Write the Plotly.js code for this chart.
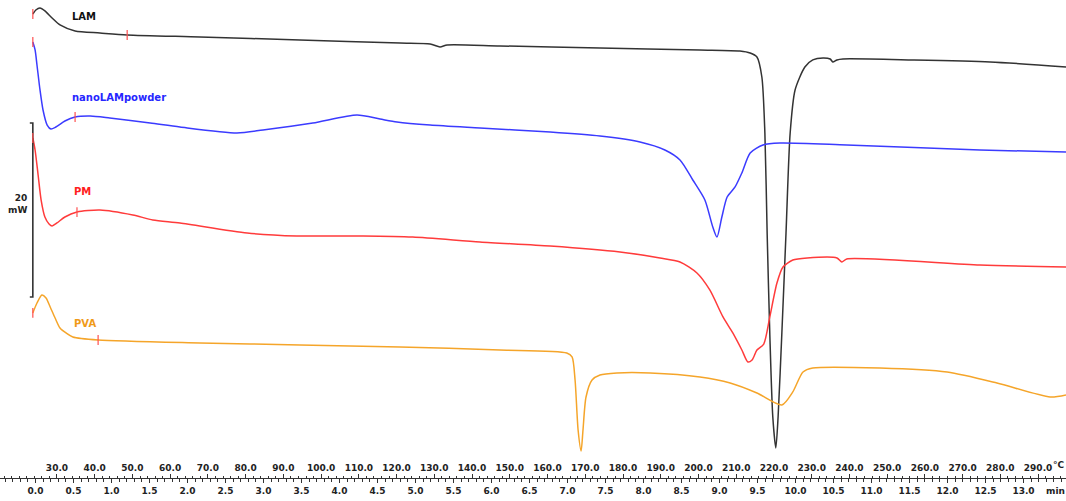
<!DOCTYPE html>
<html>
<head>
<meta charset="utf-8">
<script src="https://cdn.plot.ly/plotly-3.0.1.min.js"></script>
<style>html,body{margin:0;padding:0;background:#fff;}#chart{width:1066px;height:501px;}</style>
</head>
<body>
<div id="chart"></div>
<script>
// ---- Data (temperature in °C, heat flow in mW, curves vertically offset as in the thermogram) ----
const lamT  = [23.6,24.4,25.5,26.8,28.7,30.8,34.8,41.4,48.6,67.9,94.4,120.9,128.9,131.5,133.4,147.4,173.9,200.4,211.0,213.7,215.5,216.8,217.6,218.2,218.9,219.7,220.5,221.1,222.1,223.2,224.3,225.6,228.2,230.3,233.0,234.9,235.6,236.7,238.3,256.8,277.3,297.4];
const lamHF = [53.33,53.79,54.02,53.68,52.87,52.07,51.38,51.15,50.92,50.69,50.34,50.00,49.89,49.54,49.77,49.66,49.43,49.20,49.08,48.85,48.39,46.09,39.66,28.16,16.67,7.01,3.45,7.01,16.67,28.16,39.66,44.60,47.24,48.05,48.28,48.16,47.82,48.05,48.16,48.05,47.82,47.24];

const nanoT  = [23.6,24.2,24.7,25.5,26.3,27.4,28.4,29.7,32.1,34.8,38.8,44.0,54.7,62.6,77.7,84.6,97.8,109.5,115.6,120.1,128.9,142.1,160.7,173.9,184.5,191.1,195.1,198.5,201.7,203.8,204.9,206.2,207.6,209.7,211.5,213.7,217.1,221.6,239.3,274.6,297.4];
const nanoHF = [50.11,49.20,47.47,44.60,42.30,40.57,40.11,40.34,41.03,41.49,41.61,41.38,40.80,40.34,39.66,40.00,40.80,41.72,41.26,40.92,40.57,40.23,39.77,39.31,38.62,37.70,36.55,34.25,31.95,28.85,27.70,30.00,32.30,33.45,35.06,37.36,38.28,38.51,38.28,37.70,37.47];

const pmT  = [23.6,24.2,25.0,25.8,26.8,27.9,28.7,30.0,32.1,35.3,41.4,50.1,55.4,62.6,80.4,93.6,111.1,124.3,142.1,160.7,179.2,189.8,195.1,199.6,203.0,206.5,209.1,211.5,213.1,214.2,215.5,217.3,218.9,220.8,222.4,225.0,228.8,236.7,238.0,239.3,274.6,297.4];
const pmHF = [39.08,37.70,34.83,31.95,30.00,29.20,28.97,29.31,30.00,30.57,30.80,30.23,29.66,29.31,28.16,27.82,27.82,27.70,27.13,26.67,25.98,25.29,24.83,23.56,21.61,18.51,16.67,14.71,13.33,13.56,14.71,15.40,18.51,22.41,24.25,25.06,25.29,25.29,24.83,25.17,24.48,24.25];

const pvaT  = [23.6,24.7,26.0,27.1,28.2,29.5,30.8,32.4,34.2,40.9,67.9,94.4,120.9,147.4,165.1,166.5,167.3,168.1,168.9,169.4,170.2,171.8,173.9,178.4,187.2,200.4,208.4,215.5,222.1,225.0,227.7,230.3,248.1,265.9,279.1,293.2,297.4];
const pvaHF = [18.97,20.11,21.03,20.69,19.66,18.39,17.24,16.67,16.21,15.86,15.52,15.29,15.06,14.71,14.37,13.91,11.26,5.52,3.10,5.52,9.31,11.26,11.84,12.07,12.07,11.61,10.92,9.77,8.39,9.89,12.18,12.64,12.64,12.18,10.92,9.31,9.54];

// evaluation marks (red ticks) on each curve
const markT  = [23.6,48.6,23.6,34.8,23.6,35.3,23.6,40.9];
const markHF = [53.33,50.92,50.11,41.49,39.08,30.57,18.97,15.86];

// scale bar: 20 mW
const scaleT  = [22.8,23.6,23.6,22.8];
const scaleHF = [40.8,40.8,20.8,20.8];

// axis ticks
const tempTicks = [30,40,50,60,70,80,90,100,110,120,130,140,150,160,170,180,190,200,210,220,230,240,250,260,270,280,290];
const tempLabels = ["30.0","40.0","50.0","60.0","70.0","80.0","90.0","100.0","110.0","120.0","130.0","140.0","150.0","160.0","170.0","180.0","190.0","200.0","210.0","220.0","230.0","240.0","250.0","260.0","270.0","280.0","290.0"];
const timeTicks = [0,0.5,1,1.5,2,2.5,3,3.5,4,4.5,5,5.5,6,6.5,7,7.5,8,8.5,9,9.5,10,10.5,11,11.5,12,12.5,13];
const timeLabels = ["0.0","0.5","1.0","1.5","2.0","2.5","3.0","3.5","4.0","4.5","5.0","5.5","6.0","6.5","7.0","7.5","8.0","8.5","9.0","9.5","10.0","10.5","11.0","11.5","12.0","12.5","13.0"];

const names = ["LAM","nanoLAMpowder","PM","PVA"];
const lineColors = ["#333333","#3b3bff","#ff3b3b","#f5a52a"];
const labelColors = ["#111111","#2626ff","#ff2020","#f09a18"];
const labelT = [33.5,33.5,34.0,34.0];
const labelHF = [53.1,43.7,32.9,17.8];

const FONT = "DejaVu Sans, Verdana, sans-serif";
const series = [[lamT,lamHF],[nanoT,nanoHF],[pmT,pmHF],[pvaT,pvaHF]];
const traces = series.map((s,i)=>({
  x:s[0], y:s[1], type:"scatter", mode:"lines", name:names[i],
  line:{color:lineColors[i], width:1.5, shape:"spline", smoothing:0.7},
  hoverinfo:"skip", showlegend:false
}));
traces.push({x:scaleT, y:scaleHF, type:"scatter", mode:"lines",
  line:{color:"#333", width:1.6}, hoverinfo:"skip", showlegend:false});
traces.push({x:markT, y:markHF, type:"scatter", mode:"markers",
  marker:{symbol:"line-ns", size:7, line:{color:"#ff5050", width:1.2}},
  hoverinfo:"skip", showlegend:false});
traces.push({x:[], y:[], xaxis:"x2", type:"scatter", mode:"markers", hoverinfo:"skip", showlegend:false});

const annotations = names.map((n,i)=>({
  x:labelT[i], y:labelHF[i], xref:"x", yref:"y", xanchor:"left", yanchor:"middle",
  text:"<b>"+n+"</b>", showarrow:false, font:{family:FONT, size:10, color:labelColors[i]}
}));
annotations.push({x:22.5, y:31.5, xref:"x", yref:"y", xanchor:"right", yanchor:"middle", align:"right",
  text:"<b>20</b><br><b>mW</b>", showarrow:false, font:{family:FONT, size:9, color:"#222"}});
annotations.push({x:1, y:(478-465)/478, xref:"paper", yref:"paper", xanchor:"right", yanchor:"middle",
  text:"<b>°C</b>", showarrow:false, borderpad:0, font:{family:FONT, size:9, color:"#222"}});
annotations.push({x:1, y:(478-491)/478, xref:"paper", yref:"paper", xanchor:"right", yanchor:"middle",
  text:"<b>min</b>", showarrow:false, borderpad:0, font:{family:FONT, size:9, color:"#222"}});

const tickFont = {family:FONT, size:9, color:"#222", weight:"bold"};
const layout = {
  width:1066, height:501,
  margin:{l:0, r:0, t:0, b:23, pad:0},
  paper_bgcolor:"#fff", plot_bgcolor:"#fff",
  showlegend:false,
  xaxis:{range:[14.9,297.4], tickmode:"array", tickvals:tempTicks, ticktext:tempLabels,
    ticklabelposition:"inside", ticks:"inside", ticklen:4, tickwidth:1, tickcolor:"#333",
    minor:{tickmode:"linear", tick0:0, dtick:2, ticks:"inside", ticklen:2.5, tickcolor:"#333", showgrid:false},
    showline:true, linecolor:"#333", linewidth:1, showgrid:false, zeroline:false,
    tickfont:tickFont, fixedrange:true},
  xaxis2:{overlaying:"x", side:"bottom", anchor:"y", range:[-0.467,13.559],
    tickmode:"array", tickvals:timeTicks, ticktext:timeLabels,
    ticks:"outside", ticklen:4, tickwidth:1, tickcolor:"#333",
    minor:{tickmode:"linear", tick0:0, dtick:0.1, ticks:"outside", ticklen:2.5, tickcolor:"#333", showgrid:false},
    showline:false, showgrid:false, zeroline:false, tickfont:tickFont, fixedrange:true},
  yaxis:{range:[0,54.94], visible:false, showgrid:false, zeroline:false, fixedrange:true},
  annotations:annotations
};
Plotly.newPlot("chart", traces, layout, {staticPlot:true, displayModeBar:false});
</script>
</body>
</html>
